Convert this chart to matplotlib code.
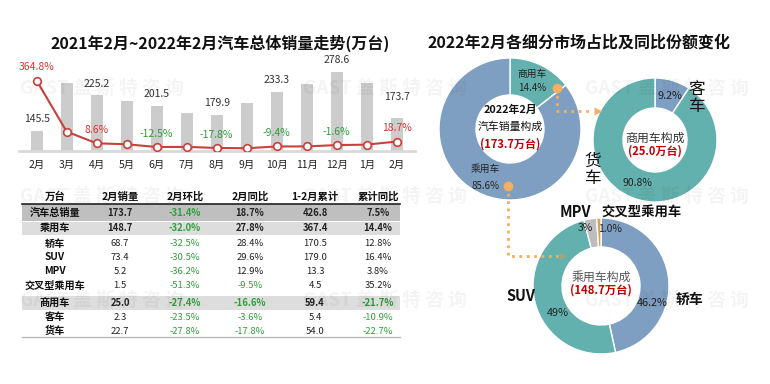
import matplotlib
matplotlib.use('Agg')
import matplotlib.pyplot as plt
import matplotlib.patches as patches

plt.rcParams['font.family'] = ['Noto Sans CJK SC', 'DejaVu Sans']

# ---- datos: serie mensual ----
meses = ['2月', '3月', '4月', '5月', '6月', '7月', '8月', '9月', '10月', '11月', '12月', '1月', '2月']
ventas = [145.5, 253.0, 225.2, 212.8, 201.5, 186.4, 179.9, 207.1, 233.3, 252.2, 278.6, 253.1, 173.7]
crec = [364.8, 74.9, 8.6, 3.1, -12.5, -11.9, -17.8, -19.6, -9.4, -9.1, -1.6, 0.9, 18.7]
con_etiqueta = [0, 2, 4, 6, 8, 10, 12]

# ---- datos: tabla ----
cols = ['万台', '2月销量', '2月环比', '2月同比', '1-2月累计', '累计同比']
filas = ['汽车总销量', '乘用车', '轿车', 'SUV', 'MPV', '交叉型乘用车', '商用车', '客车', '货车']
feb = [173.7, 148.7, 68.7, 73.4, 5.2, 1.5, 25.0, 2.3, 22.7]
mom = [-31.4, -32.0, -32.5, -30.5, -36.2, -51.3, -27.4, -23.5, -27.8]
yoy = [18.7, 27.8, 28.4, 29.6, 12.9, -9.5, -16.6, -3.6, -17.8]
acum = [426.8, 367.4, 170.5, 179.0, 13.3, 4.5, 59.4, 5.4, 54.0]
acum_yoy = [7.5, 14.4, 12.8, 16.4, 3.8, 35.2, -21.7, -10.9, -22.7]

# ---- datos: donas ----
total_lbl = ['商用车', '乘用车']
total_pct = [14.4, 85.6]
comm_lbl = ['客车', '货车']
comm_pct = [9.2, 90.8]
pas_lbl = ['轿车', 'SUV', 'MPV', '交叉型乘用车']
pas_pct = [46.2, 49, 3, 1.0]

AZUL = '#7F9FC2'
VERDE = '#63B1AE'
GRIS = '#BDBDBD'
NARANJA = '#D6A150'
ROJO = '#D9362F'
VERDE_T = '#2E9E3A'
FLECHA = '#F5AE62'

W, H = 770, 384
fig = plt.figure(figsize=(W / 100, H / 100), dpi=100)

# ---- grafico de barras + linea ----
x0, x1, yb, yt = 18.7, 414.7, 150.7, 62
axb = fig.add_axes([x0 / W, 1 - yb / H, (x1 - x0) / W, (yb - yt) / H])
xs = list(range(len(meses)))
axb.bar(xs, ventas, width=0.4, color='#CCCCCC', zorder=2)
axb.set_ylim(100, 301)
axb.set_xlim(-0.6, 12.6)
axb.set_xticks(xs)
axb.set_xticklabels(meses, fontsize=7.5, color='#222222')
axb.tick_params(axis='x', length=0, pad=7)
axb.set_yticks([])
for s in ['top', 'right', 'left']:
    axb.spines[s].set_visible(False)
axb.spines['bottom'].set_color('#D9D9D9')
axb.spines['bottom'].set_linewidth(2)
for i in con_etiqueta:
    off = 11.5 if i == 12 else 5
    axb.annotate(f'{ventas[i]:.1f}', (i, ventas[i]), xytext=(0, off), textcoords='offset points',
                 ha='center', va='bottom', fontsize=7.5, color='#333333')

axl = axb.twinx()
axl.plot(xs, crec, color='#C9403C', lw=1.5, marker='o', ms=5.5, mfc='white', mec='#C9403C', mew=1.2, zorder=3)
axl.set_ylim(-33.5, 471)
axl.set_yticks([])
for s in axl.spines.values():
    s.set_visible(False)
for i in con_etiqueta:
    c = ROJO if crec[i] > 0 else VERDE_T
    axl.annotate(f'{crec[i]:.1f}%', (i, crec[i]), xytext=(0, 6), textcoords='offset points',
                 ha='center', va='bottom', fontsize=7.5, color=c)

# ---- capa general en pixeles ----
ax = fig.add_axes([0, 0, 1, 1])
ax.set_xlim(0, W)
ax.set_ylim(0, H)
ax.axis('off')


def Y(py):
    return H - py


ax.text(220, Y(43), '2021年2月~2022年2月汽车总体销量走势(万台)', ha='center', va='center',
        fontsize=11.5, fontweight='bold', color='#111111')
ax.text(579, Y(43), '2022年2月各细分市场占比及同比份额变化', ha='center', va='center',
        fontsize=11.5, fontweight='bold', color='#111111')

# marca de agua (debajo de todo lo demas en esta capa)
for wy in [88, 196, 300]:
    for wx in [20, 303, 585]:
        ax.text(wx, Y(wy), 'GAST 盖 斯 特 咨 询', ha='left', va='center', fontsize=13.5,
                fontweight='bold', color='#000000', alpha=0.045, zorder=10)

# ---- tabla ----
col_x = [55, 120, 185, 250, 315, 378]
fila_y = [213, 228, 243.5, 257, 271, 286, 303, 317, 331]
bandas = {0: (204, 220.5, '#BFBFBF'), 1: (221.5, 235, '#DDDDDD'), 6: (296, 310, '#DDDDDD')}
for k, (ya, yb2, c) in bandas.items():
    ax.add_patch(patches.Rectangle((22, Y(yb2)), 378, yb2 - ya, facecolor=c, edgecolor='none'))
ax.plot([22, 400], [Y(204), Y(204)], color='#222222', lw=1.2)
ax.plot([22, 400], [Y(337), Y(337)], color='#BBBBBB', lw=1)
for j, c in enumerate(cols):
    ax.text(col_x[j], Y(197), c, ha='center', va='center', fontsize=7.5, fontweight='bold', color='#111111')
for r, nombre in enumerate(filas):
    neg = r in (0, 1, 6)
    fw = 'bold' if neg else 'normal'
    ax.text(col_x[0], Y(fila_y[r]), nombre, ha='center', va='center', fontsize=7.3,
            fontweight='bold', color='#111111')
    vals = [f'{feb[r]:.1f}', mom[r], yoy[r], f'{acum[r]:.1f}', acum_yoy[r]]
    for j, v in enumerate(vals):
        if isinstance(v, str):
            txt, c = v, '#222222'
        else:
            txt, c = f'{v:.1f}%', (VERDE_T if v < 0 else '#222222')
        ax.text(col_x[j + 1], Y(fila_y[r]), txt, ha='center', va='center', fontsize=6.8,
                fontweight=fw, color=c)

# ---- donas ----
wp = dict(edgecolor='white', linewidth=1)
c1 = (510, Y(129))
ax.pie(total_pct, colors=[VERDE, AZUL], startangle=90, counterclock=False, center=c1, radius=71,
       explode=[0.04, 0], wedgeprops=dict(width=37, **wp), frame=True)
c2 = (655, Y(140))
ax.pie(comm_pct, colors=[AZUL, VERDE], startangle=90, counterclock=False, center=c2, radius=62,
       wedgeprops=dict(width=30, **wp), frame=True)
c3 = (601, Y(286))
ax.pie(pas_pct, colors=[AZUL, VERDE, GRIS, NARANJA], startangle=90, counterclock=False, center=c3,
       radius=68, wedgeprops=dict(width=29, **wp), frame=True)
ax.set_xlim(0, W)
ax.set_ylim(0, H)
ax.set_aspect('auto')
ax.axis('off')

# textos dona 1
ax.text(532, Y(74), total_lbl[0], ha='center', va='center', fontsize=7, color='#222222')
ax.text(532, Y(88), f'{total_pct[0]}%', ha='center', va='center', fontsize=7, color='#222222')
ax.text(485, Y(169), total_lbl[1], ha='center', va='center', fontsize=7, color='#222222')
ax.text(485, Y(186), f'{total_pct[1]}%', ha='center', va='center', fontsize=7, color='#222222')
ax.text(510, Y(110), '2022年2月', ha='center', va='center', fontsize=7.8, fontweight='bold', color='#111111')
ax.text(510, Y(127), '汽车销量构成', ha='center', va='center', fontsize=7.8, color='#111111')
ax.text(510, Y(144), '(173.7万台)', ha='center', va='center', fontsize=8, fontweight='bold', color='#C00000')

# textos dona 2
ax.text(670, Y(96), f'{comm_pct[0]}%', ha='center', va='center', fontsize=7.8, color='#222222')
ax.text(637, Y(183), f'{comm_pct[1]}%', ha='center', va='center', fontsize=7.5, color='#222222')
ax.text(697, Y(98), '\n'.join(comm_lbl[0]), ha='center', va='center', fontsize=12, color='#111111',
        linespacing=1.05)
ax.text(593, Y(170), '\n'.join(comm_lbl[1]), ha='center', va='center', fontsize=12, color='#111111',
        linespacing=1.05)
ax.text(655, Y(138), '商用车构成', ha='center', va='center', fontsize=8.6, color='#333333')
ax.text(655, Y(151), '(25.0万台)', ha='center', va='center', fontsize=8, fontweight='bold', color='#C00000')

# textos dona 3
ax.text(652, Y(303), f'{pas_pct[0]}%', ha='center', va='center', fontsize=7.8, color='#222222')
ax.text(558, Y(313), f'{pas_pct[1]}%', ha='center', va='center', fontsize=7.8, color='#222222')
ax.text(585, Y(228), f'{pas_pct[2]}%', ha='center', va='center', fontsize=7.5, color='#222222')
ax.text(610, Y(229), f'{pas_pct[3]}%', ha='center', va='center', fontsize=7.5, color='#222222')
ax.text(690, Y(300), pas_lbl[0], ha='center', va='center', fontsize=10, fontweight='bold', color='#111111')
ax.text(521, Y(296), pas_lbl[1], ha='center', va='center', fontsize=10.5, fontweight='bold', color='#111111')
ax.text(575, Y(212), pas_lbl[2], ha='center', va='center', fontsize=10.5, fontweight='bold', color='#111111')
ax.text(642, Y(212), pas_lbl[3], ha='center', va='center', fontsize=9.6, fontweight='bold', color='#111111')
ax.text(601, Y(277), '乘用车构成', ha='center', va='center', fontsize=8.6, color='#555555')
ax.text(601, Y(290), '(148.7万台)', ha='center', va='center', fontsize=8.2, fontweight='bold', color='#C00000')

# flechas punteadas
ax.plot([557, 557, 592], [Y(88), Y(111), Y(111)], ls=':', lw=2, color=FLECHA)
ax.plot([598], [Y(111)], marker='>', ms=6, color=FLECHA, mec='none')
ax.plot([557], [Y(88)], marker='o', ms=7, color=FLECHA, mec='none')
ax.plot([508, 508, 558], [Y(186), Y(256), Y(256)], ls=':', lw=2, color=FLECHA)
ax.plot([563], [Y(256)], marker='>', ms=6, color='#9AA885', mec='none')
ax.plot([508], [Y(186)], marker='o', ms=7, color=FLECHA, mec='none')

fig.savefig('out.png', dpi=100)
